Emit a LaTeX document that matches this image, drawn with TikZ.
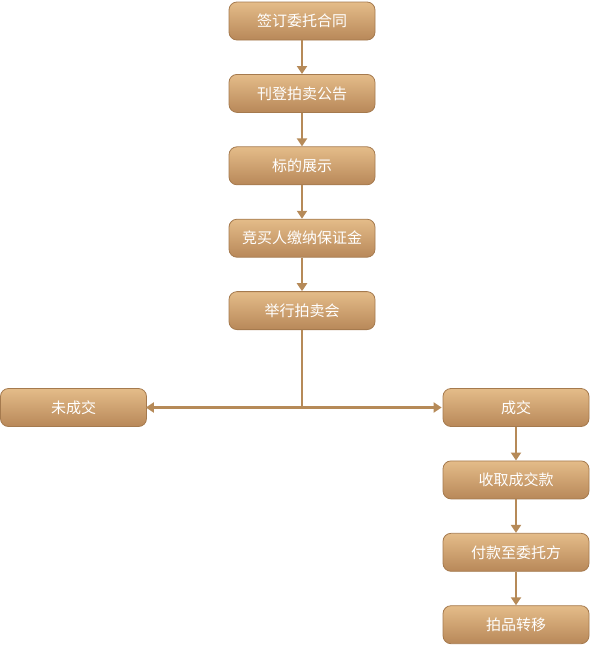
\documentclass[tikz,border=0pt]{standalone}
\usepackage{fontspec}
\setmainfont{Noto Sans CJK SC}
\usepackage{xcolor}
\definecolor{BoxTop}{HTML}{E4BC89}
\definecolor{BoxBottom}{HTML}{B88859}
\definecolor{BoxLine}{HTML}{A57A4E}
\definecolor{FlowLine}{HTML}{B68A58}
\usetikzlibrary{arrows.meta,positioning,calc}

\begin{document}
\begin{tikzpicture}[x=1pt,y=-1pt,node distance=33.6pt,>={Triangle[width=10pt,length=8pt]},every node/.style={font=\fontsize{15}{17}\selectfont, text=white, align=center}, stepbox/.style={draw=BoxLine, line width=0.8pt, top color=BoxTop, bottom color=BoxBottom, rounded corners=8pt, minimum width=146pt, minimum height=38pt, inner sep=2pt}, flow/.style={->, line width=2.4pt, draw=FlowLine}]
        \useasboundingbox (0,0) rectangle (590,646);
        \node[stepbox] (contract) at (302,21) {签订委托合同};
        \node[stepbox, below=of contract] (announce) {刊登拍卖公告};
        \node[stepbox, below=of announce] (display) {标的展示};
        \node[stepbox, below=of display] (deposit) {竞买人缴纳保证金};
        \node[stepbox, below=of deposit] (auction) {举行拍卖会};
        \node[stepbox] (unsold) at (73.5,407.5) {未成交};
        \node[stepbox] (sold) at (516,407.5) {成交};
        \node[stepbox, below=of sold] (collect) {收取成交款};
        \node[stepbox, below=of collect] (pay) {付款至委托方};
        \node[stepbox, below=of pay] (transfer) {拍品转移};
        \coordinate (split) at (auction.south |- unsold.east);

        \draw[flow] (contract) -- (announce);
        \draw[flow] (announce) -- (display);
        \draw[flow] (display) -- (deposit);
        \draw[flow] (deposit) -- (auction);
        \draw[line width=2.4pt, FlowLine] (auction.south) -- (split);
        \draw[flow] (split) -- ([xshift=-1pt]unsold.east);
        \draw[flow] (split) -- ([xshift=-1pt]sold.west);
        \draw[flow] (sold) -- (collect);
        \draw[flow] (collect) -- (pay);
        \draw[flow] (pay) -- (transfer);
    \end{tikzpicture}
\end{document}
